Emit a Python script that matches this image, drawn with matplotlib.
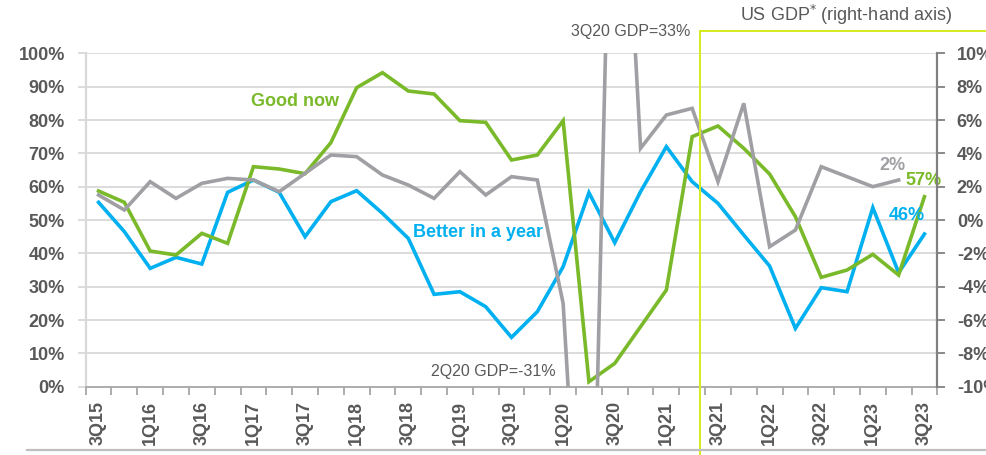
import numpy as np
import matplotlib
matplotlib.use("Agg")
import matplotlib.pyplot as plt
from matplotlib.lines import Line2D

plt.rcParams['font.family'] = ['Liberation Sans', 'DejaVu Sans']

# quarters 3Q15 .. 3Q23
quarters = ['3Q15', '4Q15',
            '1Q16', '2Q16', '3Q16', '4Q16',
            '1Q17', '2Q17', '3Q17', '4Q17',
            '1Q18', '2Q18', '3Q18', '4Q18',
            '1Q19', '2Q19', '3Q19', '4Q19',
            '1Q20', '2Q20', '3Q20', '4Q20',
            '1Q21', '2Q21', '3Q21', '4Q21',
            '1Q22', '2Q22', '3Q22', '4Q22',
            '1Q23', '2Q23', '3Q23']

# "Good now" (left axis, %)
good_now = [58.7, 55.3, 40.7, 39.5, 46.0, 43.0, 66.0, 65.3, 63.9, 73.2,
            89.7, 94.2, 88.7, 87.8, 79.8, 79.3, 68.0, 69.5, 79.8, 1.5,
            7.0, 18.0, 29.0, 75.0, 78.2, 71.5, 63.8, 51.0, 32.8, 35.0,
            39.7, 33.5, 57.0]

# "Better in a year" (left axis, %)
better_year = [55.3, 46.5, 35.5, 38.8, 36.8, 58.3, 62.0, 58.3, 45.0, 55.5,
               58.8, 52.0, 44.5, 27.7, 28.5, 24.0, 14.8, 22.5, 36.0, 58.2,
               43.2, 58.5, 72.0, 61.5, 55.0, 45.5, 36.2, 17.5, 29.7, 28.5,
               53.7, 34.2, 45.8]

# US GDP, annualised q/q (right axis, %)
us_gdp = [1.5, 0.6, 2.3, 1.3, 2.2, 2.5, 2.4, 1.7, 2.8, 3.9,
          3.8, 2.7, 2.1, 1.3, 2.9, 1.5, 2.6, 2.4, -5.0, -31.0,
          33.0, 4.3, 6.3, 6.7, 2.3, 7.0, -1.6, -0.6, 3.2, 2.6,
          2.0, 2.4, np.nan]

left_ticks = np.arange(0, 101, 10)
right_ticks = np.arange(-10, 11, 2)

GREEN = '#7ab929'
BLUE = '#00b0f0'
GREY = '#a0a0a4'
TXT = '#595959'
LIME = '#d7ea1c'

x = np.arange(len(quarters))

fig = plt.figure(figsize=(9.87, 4.55), dpi=100)
ax = fig.add_axes([0.0868, 0.1501, 0.8629, 0.7327])
ax2 = ax.twinx()

ax.plot(x, better_year, color=BLUE, lw=2.6, zorder=3, solid_joinstyle='miter')
ax.plot(x, good_now, color=GREEN, lw=2.6, zorder=4, solid_joinstyle='miter')
ax2.plot(x, us_gdp, color=GREY, lw=2.6, zorder=3, solid_joinstyle='miter')

ax.set_xlim(-0.5, len(quarters) - 0.5)
ax.set_ylim(0, 100)
ax2.set_ylim(-10, 10)

# grid
for v in left_ticks[1:]:
    ax.axhline(v, color='#d9d9d9', lw=1.3, zorder=1)

ax.set_yticks(left_ticks)
ax.set_yticklabels([f'{v}%' for v in left_ticks])
ax2.set_yticks(right_ticks)
ax2.set_yticklabels([f'{v}%' for v in right_ticks])

# category boundaries as ticks, labels every other quarter
ax.set_xticks(np.arange(-0.5, len(quarters), 1))
ax.set_xticklabels([])
ax.set_xticks(x[::2], minor=True)
ax.set_xticklabels(quarters[::2], minor=True, rotation=90)

ax.tick_params(axis='x', which='major', length=6, width=1.3, color='#a6a6a6')
ax.tick_params(axis='x', which='minor', length=0, pad=10,
               labelsize=13, labelcolor=TXT)
for lab in ax.get_xticklabels(minor=True):
    lab.set_fontweight('bold')
ax.tick_params(axis='y', length=6, width=1.3, color='#d9d9d9', pad=9,
               labelsize=13, labelcolor=TXT)
ax2.tick_params(axis='y', length=6, width=1.3, color='#808080', pad=8,
                labelsize=13, labelcolor=TXT)
for lab in ax.get_yticklabels() + ax2.get_yticklabels():
    lab.set_fontweight('bold')

for a in (ax, ax2):
    for s in a.spines.values():
        s.set_visible(False)
ax2.spines['right'].set_visible(True)
ax2.spines['right'].set_color('#808080')
ax2.spines['right'].set_linewidth(1.6)
ax.spines['left'].set_visible(True)
ax.spines['left'].set_color('#d9d9d9')
ax.spines['left'].set_linewidth(1.6)
ax.spines['bottom'].set_visible(True)
ax.spines['bottom'].set_color('#a6a6a6')
ax.spines['bottom'].set_linewidth(1.3)

# annotations
ax.text(7.6, 85.4, 'Good now', color=GREEN, fontsize=13, fontweight='bold',
        ha='center', va='center', zorder=6)
ax.text(14.7, 46.2, 'Better in a year', color=BLUE, fontsize=13,
        fontweight='bold', ha='center', va='center', zorder=6)
ax.text(20.6, 106.4, '3Q20 GDP=33%', color=TXT, fontsize=11.5,
        ha='center', va='center', clip_on=False)
ax.text(15.3, 4.6, '2Q20 GDP=-31%', color=TXT, fontsize=11.5,
        ha='center', va='center', zorder=6)
ax.text(30.75, 66.5, '2%', color=GREY, fontsize=13, fontweight='bold',
        ha='center', va='center', zorder=6)
ax.text(31.95, 62.0, '57%', color=GREEN, fontsize=13, fontweight='bold',
        ha='center', va='center', zorder=6)
ax.text(31.3, 51.5, '46%', color=BLUE, fontsize=13, fontweight='bold',
        ha='center', va='center', zorder=6)

fig.text(0.857, 0.967, 'US GDP$^{*}$ (right-hand axis)', color=TXT,
         fontsize=13, ha='center', va='center')

# highlight box lines and footer rule
W, H = 987.0, 455.0
fig.add_artist(Line2D([700 / W, 700 / W], [0, 1 - 31 / H], color=LIME,
                      lw=1.4, transform=fig.transFigure, zorder=10))
fig.add_artist(Line2D([700 / W, 1], [1 - 31 / H, 1 - 31 / H], color=LIME,
                      lw=1.4, transform=fig.transFigure, zorder=10))
fig.add_artist(Line2D([27 / W, 1], [1 - 450 / H, 1 - 450 / H], color='#bfbfbf',
                      lw=1.6, transform=fig.transFigure, zorder=10))

fig.savefig('out.png', dpi=100)
